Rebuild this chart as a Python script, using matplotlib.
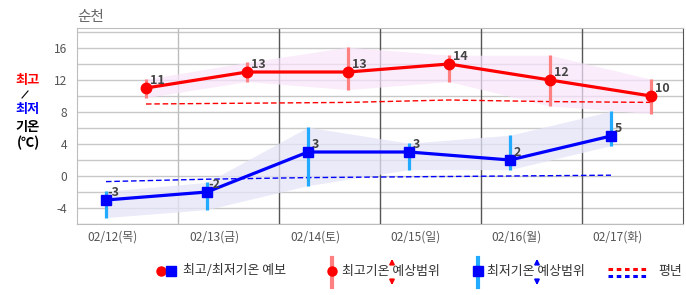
import matplotlib
matplotlib.use("Agg")
import matplotlib.pyplot as plt

plt.rcParams['font.family'] = ['Noto Sans CJK KR', 'DejaVu Sans']

# ---- data ----
title = "순천"
day_labels = ["02/12(목)", "02/13(금)", "02/14(토)", "02/15(일)", "02/16(월)", "02/17(화)"]
high = [11, 13, 13, 14, 12, 10]
high_top = [12.1, 14.2, 16.1, 15.1, 15.1, 12.1]
high_bot = [9.8, 11.8, 10.8, 11.8, 8.75, 7.8]
high_normal = [9.0, 9.1, 9.2, 9.5, 9.3, 9.2]
low = [-3, -2, 3, 3, 2, 5]
low_top = [-1.9, -0.8, 6.1, 4.1, 5.1, 8.1]
low_bot = [-5.2, -4.2, -1.2, 0.8, 0.8, 3.8]
low_normal = [-0.7, -0.4, -0.2, -0.1, 0.0, 0.1]
yticks = [-4, 0, 4, 8, 12, 16]

# time-of-day positions (fraction of day)
low_pos = 0.287
high_pos = 0.683
label_pos = 0.356

n = len(day_labels)
xh = [i + high_pos for i in range(n)]
xl = [i + low_pos for i in range(n)]

W, H = 686, 295
fig = plt.figure(figsize=(W / 100, H / 100), dpi=100)
fig.patch.set_facecolor('white')

L, R, T, B = 77, 683, 28, 224
ax = fig.add_axes([L / W, 1 - B / H, (R - L) / W, (B - T) / H])
ax.set_xlim(0, n)
ax.set_ylim(-6, 18.5)

# grid
for y in range(-6, 19, 2):
    ax.axhline(y, color='#c8c8c8', lw=1, zorder=0)
for k in range(1, n):
    ax.axvline(k, color='#bdbdbd' if k == 1 else '#555555', lw=1, zorder=0)
for s in ['top', 'left', 'bottom']:
    ax.spines[s].set_color('#bdbdbd')
ax.spines['right'].set_color('#555555')

# bands
ax.fill_between(xh, high_bot, high_top, color='#f8e4fa', alpha=0.7, lw=0, zorder=1)
ax.fill_between(xl, low_bot, low_top, color='#e4e4f8', alpha=0.75, lw=0, zorder=1)

# normals
ax.plot(xh, high_normal, color='#ff0000', lw=1, dashes=(4, 2), zorder=2)
ax.plot(xl, low_normal, color='#0000ff', lw=1, dashes=(4, 2), zorder=2)

# range bars
ax.vlines(xh, high_bot, high_top, color='#ff8080', lw=2.3, zorder=3)
ax.vlines(xl, low_bot, low_top, color='#22aaff', lw=2.3, zorder=3)

# main lines
ax.plot(xh, high, color='#ff0000', lw=2.3, marker='o', ms=7.5, zorder=4)
ax.plot(xl, low, color='#0000ff', lw=2.3, marker='s', ms=7.5, zorder=4)

for x, v in zip(xh, high):
    ax.annotate(str(v), (x, v), xytext=(4, 8), textcoords='offset pixels',
                ha='left', va='center', fontsize=9, fontweight='bold', color='#444444', zorder=5)
for x, v in zip(xl, low):
    ax.annotate(str(v), (x, v), xytext=(1 if v < 0 else 4, 8), textcoords='offset pixels',
                ha='left', va='center', fontsize=9, fontweight='bold', color='#444444', zorder=5)

ax.set_yticks(yticks)
ax.set_yticklabels([str(t) for t in yticks])
ax.set_xticks([i + label_pos for i in range(n)])
ax.set_xticklabels(day_labels)
ax.tick_params(axis='both', length=0, labelsize=8.6, labelcolor='#555555')
ax.tick_params(axis='y', pad=7)
ax.tick_params(axis='x', pad=5)

# overlay axes in pixel coordinates for title, side label, legend
ov = fig.add_axes([0, 0, 1, 1], zorder=-1)
ov.set_xlim(0, W)
ov.set_ylim(H, 0)
ov.axis('off')

ov.text(77, 17, title, fontsize=10.5, color='#666666', ha='left', va='center')

ov.text(28, 80, "최고", fontsize=9.5, fontweight='bold', color='#ff0000', ha='center', va='center')
ov.plot([22, 28], [98, 91], color='black', lw=0.8)
ov.text(28, 109, "최저", fontsize=9.5, fontweight='bold', color='#0000ff', ha='center', va='center')
ov.text(28, 127, "기온", fontsize=9.5, fontweight='bold', color='black', ha='center', va='center')
ov.text(28, 143, "(℃)", fontsize=9.5, fontweight='bold', color='black', ha='center', va='center')

# legend
ly = 271
fs = 9.3
ov.plot([161], [ly], 'o', color='#ff0000', ms=6.5)
ov.plot([171], [ly], 's', color='#0000ff', ms=6.5)
ov.text(183, ly, "최고/최저기온 예보", fontsize=fs, color='#333333', ha='left', va='center')

ov.plot([332, 332], [258, 287], color='#ff8080', lw=3)
ov.plot([332], [ly], 'o', color='#ff0000', ms=6.5)
ov.text(342, ly, "최고기온 예상범위", fontsize=fs, color='#333333', ha='left', va='center')
ov.annotate('', xy=(392, 256), xytext=(392, 266),
            arrowprops=dict(arrowstyle='-|>', color='#ff0000', lw=1.3, mutation_scale=7))
ov.annotate('', xy=(392, 288), xytext=(392, 277),
            arrowprops=dict(arrowstyle='-|>', color='#ff0000', lw=1.3, mutation_scale=7))

ov.plot([478, 478], [258, 287], color='#22aaff', lw=3)
ov.plot([478], [ly], 's', color='#0000ff', ms=6.5)
ov.text(487, ly, "최저기온 예상범위", fontsize=fs, color='#333333', ha='left', va='center')
ov.annotate('', xy=(537, 256), xytext=(537, 266),
            arrowprops=dict(arrowstyle='-|>', color='#0000ff', lw=1.3, mutation_scale=7))
ov.annotate('', xy=(537, 288), xytext=(537, 277),
            arrowprops=dict(arrowstyle='-|>', color='#0000ff', lw=1.3, mutation_scale=7))

ov.plot([608, 647], [269, 269], color='#ff0000', lw=2.2, dashes=(1.5, 1.2))
ov.plot([608, 647], [276, 276], color='#0000ff', lw=2.2, dashes=(1.5, 1.2))
ov.text(658, ly, "평년", fontsize=fs, color='#333333', ha='left', va='center')

fig.savefig("out.png", dpi=100)
